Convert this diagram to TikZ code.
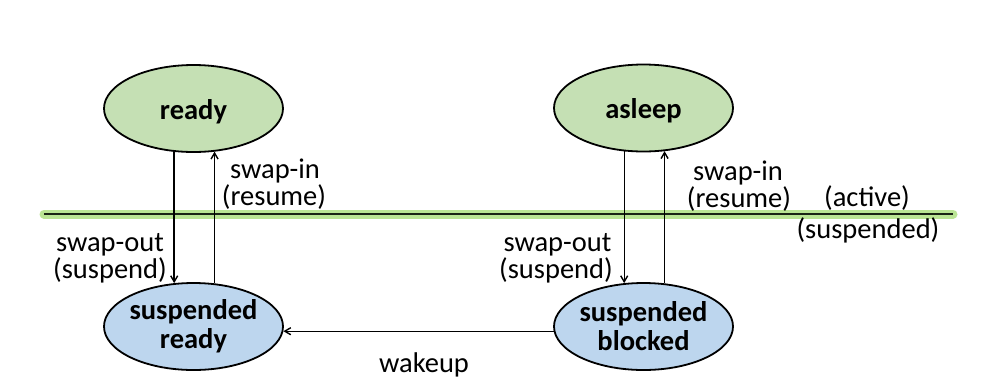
\documentclass[tikz,border=0pt]{standalone}
\usepackage{fontspec}
\setmainfont{Carlito}
\usetikzlibrary{shapes.geometric,arrows.meta}
\definecolor{readyfill}{RGB}{197,224,180}
\definecolor{suspfill}{RGB}{189,214,238}
\definecolor{glowgreen}{RGB}{186,228,148}
\definecolor{divline}{RGB}{25,35,20}
\begin{document}
\begin{tikzpicture}[x=1pt,y=-1pt,
  state/.style={ellipse,draw=black,line width=1.8pt,minimum width=179pt,minimum height=87pt,
    inner xsep=-4pt,inner ysep=0pt,align=center,
    font=\fontsize{28.5}{29}\selectfont\bfseries},
  oneline/.style={text height=22pt,text depth=1pt},
  lbl/.style={anchor=base,inner sep=0pt,font=\fontsize{28.5}{30}\selectfont},
  conn/.style={line width=1.4pt,-{Straight Barb[length=6pt,width=7pt]}}]
\useasboundingbox (0,0) rectangle (992,389);

% active / suspended divider
\coordinate (divL) at (44,214);
\coordinate (divR) at (953,214);
\draw[glowgreen,line width=9pt,line cap=round] (divL) -- (divR);
\draw[divline,line width=2.6pt] (divL) -- (divR);

% states
\node[state,oneline,fill=readyfill] (ready) at (193.5,108.5) {ready};
\node[state,oneline,fill=readyfill] (asleep) at (643.5,108) {asleep};
\node[state,fill=suspfill] (sready) at (193.5,326.5) {suspended\\ready};
\node[state,fill=suspfill] (sblocked) at (643.5,326.5) {suspended\\blocked};

% connectors
\draw[conn] (ready.-114.7) -- (sready.114.7);
\draw[conn] (sready.64.2) -- (ready.-64.2);
\draw[conn] (asleep.-114.7) -- (sblocked.114.7);
\draw[conn] (sblocked.64.2) -- (asleep.-64.2);
\draw[conn] (sblocked.183.5) -- (sready.-3.5);

% labels
\node[lbl] (swapinL) at (275,178.5) {swap-in};
\node[lbl] (resumeL) at (274,205) {(resume)};
\node[lbl] (swapoutL) at (110,251.5) {swap-out};
\node[lbl] (suspendL) at (110,278) {(suspend)};
\node[lbl] (swapinR) at (738,180.5) {swap-in};
\node[lbl] (resumeR) at (739,207) {(resume)};
\node[lbl] (swapoutR) at (557.5,251.5) {swap-out};
\node[lbl] (suspendR) at (556,278) {(suspend)};
\node[lbl] (active) at (867,206) {(active)};
\node[lbl] (suspended) at (868,238) {(suspended)};
\node[lbl] (wakeup) at (424,372) {wakeup};
\end{tikzpicture}
\end{document}
